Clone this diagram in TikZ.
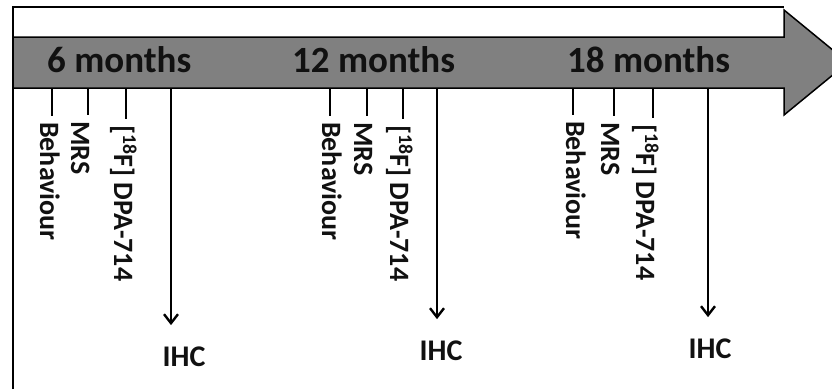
\documentclass[tikz,border=0pt]{standalone}
\usepackage{fontspec}
\setmainfont{Carlito}
\usetikzlibrary{arrows.meta}
\definecolor{bandgray}{HTML}{808080}
\definecolor{ink}{HTML}{111111}
\tikzset{
  frameline/.style={line width=1.5pt, draw=black},
  timeband/.style={line width=1.5pt, draw=black, fill=bandgray, line join=miter},
  monthlabel/.style={inner sep=0pt, anchor=base west, text=ink,
    font=\fontsize{37}{37}\selectfont\bfseries},
  sidelabel/.style={inner sep=0pt, anchor=base west, rotate=-90, text=ink,
    font=\fontsize{28}{28}\selectfont\bfseries},
  ihclabel/.style={inner sep=0pt, anchor=base, text=ink,
    font=\fontsize{30}{30}\selectfont\bfseries},
  ticker/.style={line width=1.7pt, draw=black, shorten >=6pt},
  ihcarrow/.style={line width=2.2pt, draw=black, shorten >=21pt,
    -{Straight Barb[length=9pt, width=14pt, line width=2.4pt]}}
}
\begin{document}
\begin{tikzpicture}[x=1pt, y=-1pt]
  \useasboundingbox (0,0) rectangle (832,389);
  \clip (0,0) rectangle (832,389);
  \fill[white] (0,0) rectangle (832,389);

  % open frame: left side and top
  \draw[frameline] (13,389) -- (13,7) -- (784,7);

  % the time arrow
  \draw[timeband] (13,37) -- (784,37) -- (784,10) -- (848,62.5)
    -- (784,115) -- (784,88) -- (13,88) -- cycle;

  % time points
  \node[monthlabel] (m6)  at (47,72)  {6 months};
  \node[monthlabel] (m12) at (292,72) {12 months};
  \node[monthlabel] (m18) at (567,72) {18 months};

  % tick roots on the lower edge of the arrow
  \foreach \n/\x in {b1/52, r1/88, d1/126, a1/171,
                     b2/330, r2/367, d2/403, a2/437,
                     b3/573, r3/614, d3/653, a3/708}
    \coordinate (\n) at (\x,88);

  % measurements at 6 months
  \node[sidelabel] (beh1) at (40,122)  {Behaviour};
  \node[sidelabel] (mrs1) at (71,121)  {MRS};
  \node[sidelabel] (dpa1) at (114,125) {[\textsuperscript{18}F] DPA-714};
  \node[ihclabel]  (ihc1) at (184,366) {IHC};

  % measurements at 12 months
  \node[sidelabel] (beh2) at (322,122) {Behaviour};
  \node[sidelabel] (mrs2) at (354,122) {MRS};
  \node[sidelabel] (dpa2) at (390,125) {[\textsuperscript{18}F] DPA-714};
  \node[ihclabel]  (ihc2) at (441,360) {IHC};

  % measurements at 18 months
  \node[sidelabel] (beh3) at (566,121) {Behaviour};
  \node[sidelabel] (mrs3) at (601,122) {MRS};
  \node[sidelabel] (dpa3) at (636,124) {[\textsuperscript{18}F] DPA-714};
  \node[ihclabel]  (ihc3) at (710,358) {IHC};

  % ticks down to the measurements
  \foreach \t/\l in {b1/beh1, r1/mrs1, d1/dpa1,
                     b2/beh2, r2/mrs2, d2/dpa2,
                     b3/beh3, r3/mrs3, d3/dpa3}
    \draw[ticker] (\t) -- (\t |- \l.west);

  % arrows down to IHC
  \foreach \t/\l in {a1/ihc1, a2/ihc2, a3/ihc3}
    \draw[ihcarrow] (\t) -- (\t |- \l.north);
\end{tikzpicture}
\end{document}
